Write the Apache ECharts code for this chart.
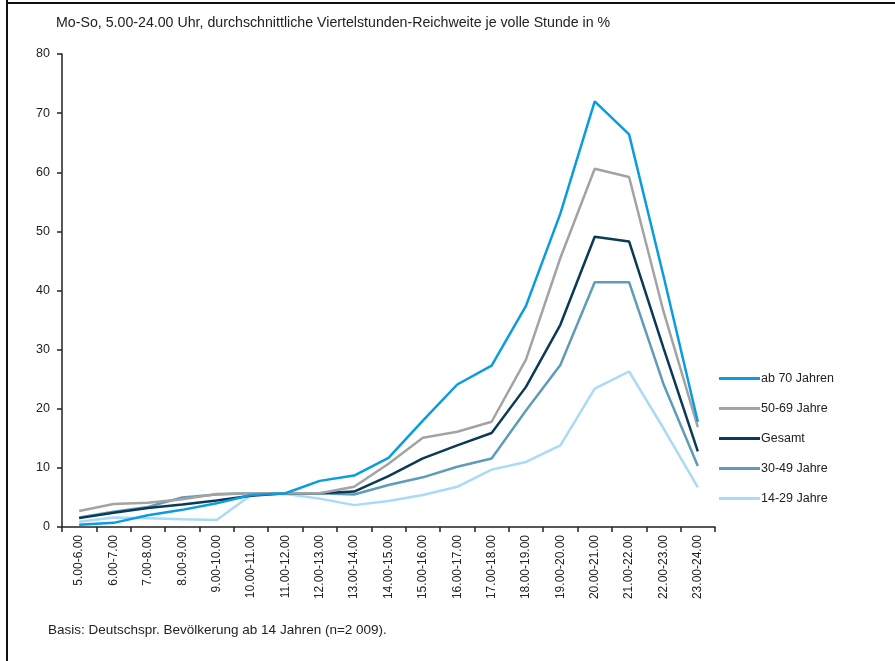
<!DOCTYPE html>
<html>
<head>
<meta charset="utf-8">
<script src="https://cdn.jsdelivr.net/npm/echarts@6/dist/echarts.min.js"></script>
<style>
  html, body { margin: 0; padding: 0; background: #fff; }
  #chart { width: 895px; height: 661px; }
</style>
</head>
<body>
<div id="chart"></div>
<script>
const categories = ['5.00-6.00', '6.00-7.00', '7.00-8.00', '8.00-9.00', '9.00-10.00', '10.00-11.00',
  '11.00-12.00', '12.00-13.00', '13.00-14.00', '14.00-15.00', '15.00-16.00', '16.00-17.00',
  '17.00-18.00', '18.00-19.00', '19.00-20.00', '20.00-21.00', '21.00-22.00', '22.00-23.00', '23.00-24.00'];

const ab70 = [0.4, 0.7, 2.0, 2.9, 4.0, 5.4, 5.7, 7.8, 8.7, 11.7, 18.0, 24.1, 27.3, 37.4, 53.0, 72.0, 66.4, 42.5, 17.8];
const j5069 = [2.7, 3.9, 4.1, 4.7, 5.6, 5.7, 5.7, 5.7, 6.8, 10.7, 15.1, 16.1, 17.8, 28.3, 45.5, 60.6, 59.2, 36.5, 16.9];
const gesamt = [1.5, 2.4, 3.2, 3.8, 4.5, 5.3, 5.7, 5.7, 6.0, 8.6, 11.6, 13.8, 15.9, 23.7, 34.2, 49.1, 48.3, 30.3, 12.8];
const j3049 = [1.6, 2.6, 3.4, 5.0, 5.5, 5.7, 5.7, 5.7, 5.5, 7.1, 8.4, 10.2, 11.6, 19.7, 27.4, 41.4, 41.4, 24.2, 10.3];
const j1429 = [0.9, 1.6, 1.5, 1.3, 1.2, 5.4, 5.6, 4.8, 3.7, 4.4, 5.4, 6.8, 9.7, 11.0, 13.8, 23.4, 26.3, 16.7, 6.7];

const font = "'Liberation Sans', Arial, sans-serif";

const seriesDefs = [
  { name: 'ab 70 Jahren', data: ab70, color: '#0a9ce0' },
  { name: '50-69 Jahre', data: j5069, color: '#a3a3a3' },
  { name: 'Gesamt', data: gesamt, color: '#0b3a56' },
  { name: '30-49 Jahre', data: j3049, color: '#5e9cba' },
  { name: '14-29 Jahre', data: j1429, color: '#a9daf6' },
];

const chart = echarts.init(document.getElementById('chart'));

chart.setOption({
  animation: false,
  textStyle: { fontFamily: font },
  title: {
    text: 'Mo-So, 5.00-24.00 Uhr, durchschnittliche Viertelstunden-Reichweite je volle Stunde in %',
    left: 51,
    top: 11,
    textStyle: { fontSize: 14.2, fontWeight: 'normal', color: '#222', fontFamily: font }
  },
  graphic: [
    { type: 'line', shape: { x1: 7, y1: 0, x2: 7, y2: 661 }, style: { stroke: '#111', lineWidth: 2 } },
    { type: 'line', shape: { x1: 7, y1: 3, x2: 895, y2: 3 }, style: { stroke: '#111', lineWidth: 2 } },
    {
      type: 'text', left: 48, top: 623,
      style: { text: 'Basis: Deutschspr. Bevölkerung ab 14 Jahren (n=2 009).', fontSize: 13.5, fill: '#222', fontFamily: font }
    }
  ],
  legend: {
    orient: 'vertical',
    left: 714,
    top: 367,
    itemWidth: 41,
    itemHeight: 3,
    itemGap: 17,
    icon: 'rect',
    textStyle: { fontSize: 12.5, color: '#222', fontFamily: font, padding: [0, 0, 0, -4] },
    data: seriesDefs.map(s => s.name)
  },
  grid: {
    left: 62,
    right: 180,
    top: 54,
    bottom: 134
  },
  xAxis: {
    type: 'category',
    data: categories,
    boundaryGap: true,
    axisLine: { lineStyle: { color: '#222', width: 1.5 } },
    axisTick: { show: true, length: 5, lineStyle: { color: '#222', width: 1.5 } },
    axisLabel: { rotate: 90, interval: 0, fontSize: 12, color: '#222', fontFamily: font, margin: 8 }
  },
  yAxis: {
    type: 'value',
    min: 0,
    max: 80,
    interval: 10,
    splitLine: { show: false },
    axisLine: { show: true, lineStyle: { color: '#222', width: 1.5 } },
    axisTick: { show: true, length: 5, lineStyle: { color: '#222', width: 1.5 } },
    axisLabel: { fontSize: 12.5, color: '#222', fontFamily: font, margin: 12 }
  },
  series: seriesDefs.slice().reverse().map(s => ({
    name: s.name,
    type: 'line',
    data: s.data,
    showSymbol: false,
    symbol: 'none',
    color: s.color,
    lineStyle: { color: s.color, width: 2.5 }
  }))
});
</script>
</body>
</html>
